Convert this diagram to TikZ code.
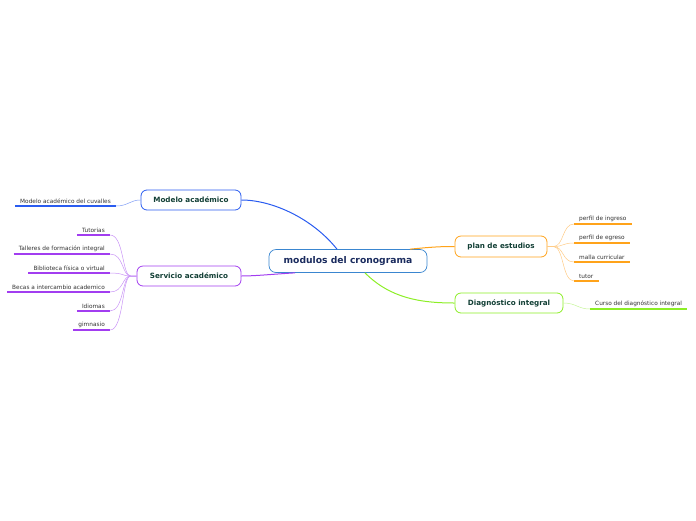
\documentclass[tikz,border=0pt]{standalone}
\usepackage{fontspec}
\setmainfont{DejaVu Sans}
\usetikzlibrary{calc}
\definecolor{cblue}{HTML}{2A5CF0}
\definecolor{cblueL}{HTML}{7E9CF5}
\definecolor{cpur}{HTML}{A23DF0}
\definecolor{cpurL}{HTML}{C994F6}
\definecolor{corg}{HTML}{FFA31A}
\definecolor{corgL}{HTML}{FFCB85}
\definecolor{cgrn}{HTML}{8CEE26}
\definecolor{cgrnL}{HTML}{C4F596}
\definecolor{cctr}{HTML}{3A86D0}
\definecolor{tmain}{HTML}{123F35}
\definecolor{tctr}{HTML}{1A2B5E}
\definecolor{tleaf}{HTML}{333333}
\tikzset{
  mainbox/.style={draw, rounded corners=6pt, line width=0.8pt, fill=white,
    font=\fontsize{7.2}{8}\selectfont\bfseries, text=tmain, inner sep=0pt},
  ctrbox/.style={draw=cctr, rounded corners=7pt, line width=0.7pt, fill=white,
    font=\fontsize{9.2}{10}\selectfont\bfseries, text=tctr, inner sep=0pt,
    minimum width=158pt, minimum height=23pt},
  leaf/.style={font=\fontsize{5.8}{6.5}\selectfont, text=tleaf, inner xsep=5pt, inner ysep=2pt},
  uline/.style={line width=1.6pt},
  branch/.style={line width=1pt},
  twig/.style={line width=0.5pt},
}
\begin{document}
\begin{tikzpicture}[x=1pt,y=-1pt]
\useasboundingbox (0,0) rectangle (696,520);

% central
\node[ctrbox] (c) at (348,261) {modulos del cronograma};

% main topics
\node[mainbox, draw=cblue, minimum width=100pt, minimum height=20pt] (ma) at (191,200) {Modelo académico};
\node[mainbox, draw=cpur, minimum width=104pt, minimum height=20pt] (sa) at (189,276) {Servicio académico};
\node[mainbox, draw=corg, minimum width=92pt, minimum height=21pt] (pe) at (501,246.5) {plan de estudios};
\node[mainbox, draw=cgrn, minimum width=108pt, minimum height=20pt] (di) at (509,303) {Diagnóstico integral};

% branches
\draw[branch, cblue] ($(c.north)+(-11,0)$) .. controls (312,218) and (272,200) .. (ma.east);
\draw[branch, cpur] ($(c.south)+(-53,0)$) .. controls (275,274) and (255,276) .. (sa.east);
\draw[branch, corg] ($(c.north)+(62,0)$) .. controls (432,247) and (440,246.5) .. (pe.west);
\draw[branch, cgrn] ($(c.south)+(17,0)$) .. controls (390,298) and (420,303) .. (di.west);

% Modelo leaf
\node[leaf, anchor=south east] (m1) at (116,206) {Modelo académico del cuvalles};
\draw[uline, cblue] (m1.south west) -- (m1.south east);
\draw[twig, cblueL] (m1.south east) .. controls (128,206) and (130,200) .. (ma.west);

% Servicio leaves
\node[leaf, anchor=south east] (s1) at (110,235) {Tutorias};
\node[leaf, anchor=south east] (s2) at (110,254) {Talleres de formación integral};
\node[leaf, anchor=south east] (s3) at (110,273) {Biblioteca física o virtual};
\node[leaf, anchor=south east] (s4) at (110,292) {Becas a intercambio academico};
\node[leaf, anchor=south east] (s5) at (110,311) {Idiomas};
\node[leaf, anchor=south east] (s6) at (110,330) {gimnasio};
\foreach \n in {s1,s2,s3,s4,s5,s6}{
  \draw[uline, cpur] (\n.south west) -- (\n.south east);
  \draw[twig, cpurL] (\n.south east) .. controls +(14,0) and (122,276) .. ($(sa.west)+(-6,0)$) -- (sa.west);
}

% plan leaves
\node[leaf, anchor=south west] (p1) at (574,224) {perfil de ingreso};
\node[leaf, anchor=south west] (p2) at (574,243) {perfil de egreso};
\node[leaf, anchor=south west] (p3) at (574,262) {malla curricular};
\node[leaf, anchor=south west] (p4) at (574,281) {tutor};
\foreach \n in {p1,p2,p3,p4}{
  \draw[uline, corg] (\n.south west) -- (\n.south east);
  \draw[twig, corgL] (pe.east) -- ($(pe.east)+(6,0)$) .. controls (564,246.5) and ($(\n.south west)+(-12,0)$) .. (\n.south west);
}

% diagnostico leaf
\node[leaf, anchor=south west] (d1) at (590,309) {Curso del diagnóstico integral};
\draw[uline, cgrn] (d1.south west) -- (d1.south east);
\draw[twig, cgrnL] (di.east) .. controls (576,303) and (578,309) .. (d1.south west);
\end{tikzpicture}
\end{document}
